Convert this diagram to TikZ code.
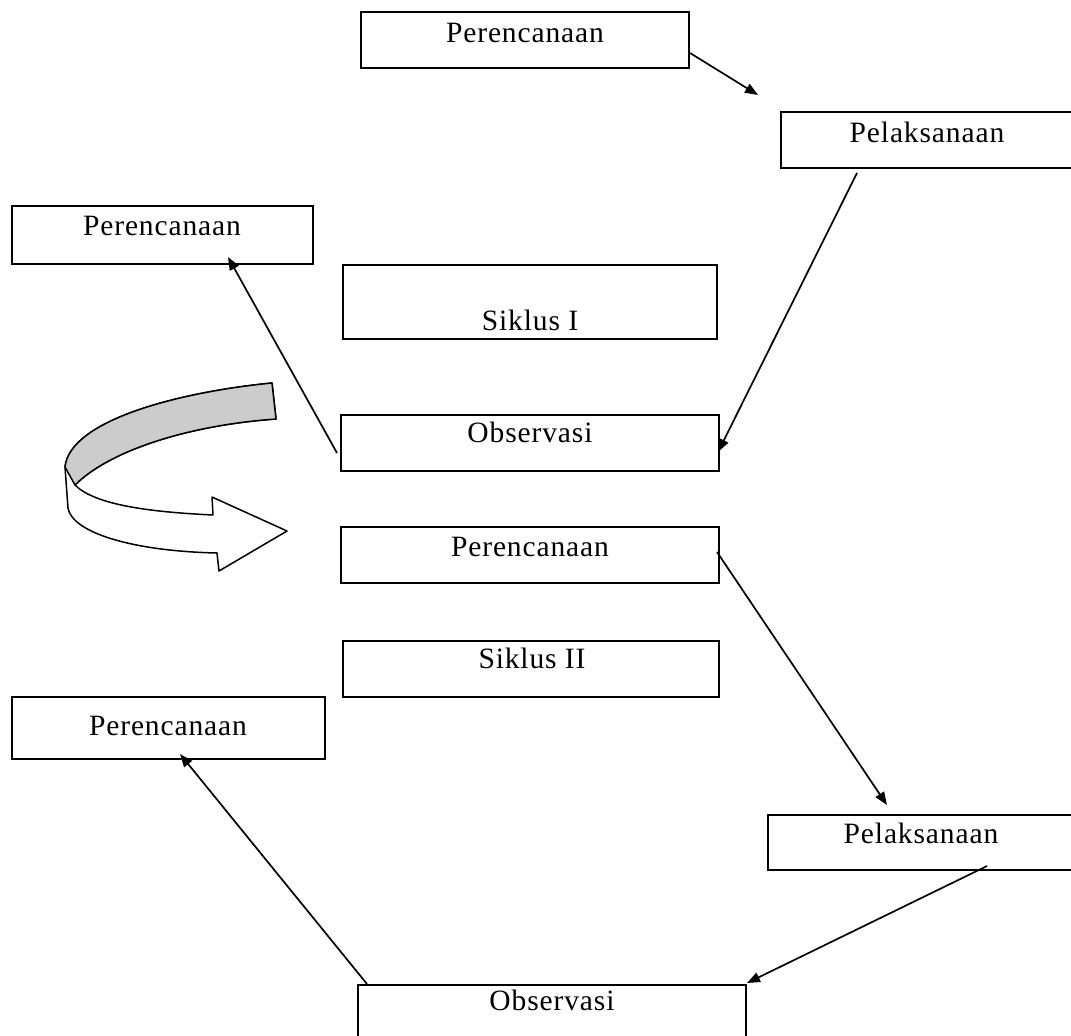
\documentclass[tikz,border=0pt]{standalone}
\usepackage{fontspec}
\setmainfont{Liberation Serif}[LetterSpace=3]
\usetikzlibrary{arrows.meta}
\begin{document}
\begin{tikzpicture}[x=1pt,y=-1pt,
  box/.style={draw, line width=2.2pt, rectangle, inner sep=0pt},
  lbl/.style={anchor=base, inner sep=0pt, font=\fontsize{29.5}{33}\selectfont},
  conn/.style={line width=1.7pt, -{Triangle[length=13pt,width=10pt]}},
  ribbon/.style={line width=1.5pt, line join=round}]
\useasboundingbox (0,0) rectangle (1071,1036);
\clip (0,0) rectangle (1071,1036);
\fill[white] (0,0) rectangle (1071,1036);

% boxes
\node[box, minimum width=328pt, minimum height=56pt] (p1) at (525,40) {};
\node[box, minimum width=292pt, minimum height=56pt] (l1) at (927,140) {};
\node[box, minimum width=301pt, minimum height=58pt] (p2) at (162.5,235) {};
\node[box, minimum width=374pt, minimum height=74pt] (s1) at (530,302) {};
\node[box, minimum width=378pt, minimum height=56pt] (o1) at (530,443) {};
\node[box, minimum width=378pt, minimum height=56pt] (p3) at (530,555) {};
\node[box, minimum width=376pt, minimum height=56pt] (s2) at (531,669) {};
\node[box, minimum width=313pt, minimum height=62pt] (p4) at (168.5,728) {};
\node[box, minimum width=306pt, minimum height=55pt] (l2) at (921,842.5) {};
\node[box, minimum width=388pt, minimum height=60pt] (o2) at (552,1015) {};

% labels
\node[lbl] (tp1) at (525,42) {Perencanaan};
\node[lbl] (tl1) at (927,142) {Pelaksanaan};
\node[lbl] (tp2) at (162,235) {Perencanaan};
\node[lbl] (ts1) at (530,330) {Siklus I};
\node[lbl] (to1) at (530,442) {Observasi};
\node[lbl] (tp3) at (530,556) {Perencanaan};
\node[lbl] (ts2) at (532,668) {Siklus II};
\node[lbl] (tp4) at (168,735) {Perencanaan};
\node[lbl] (tl2) at (921,843) {Pelaksanaan};
\node[lbl] (to2) at (552,1010) {Observasi};

% connector end points
\coordinate (a1) at (690,53);  \coordinate (a2) at (758,95);
\coordinate (b1) at (857,173); \coordinate (b2) at (718,452);
\coordinate (c1) at (337,453); \coordinate (c2) at (228,257);
\coordinate (d1) at (717,552); \coordinate (d2) at (887,805);
\coordinate (e1) at (987,866); \coordinate (e2) at (747,983);
\coordinate (f1) at (367,984); \coordinate (f2) at (180,754);

\draw[conn] (a1) -- (a2);
\draw[conn] (b1) -- (b2);
\draw[conn] (c1) -- (c2);
\draw[conn] (d1) -- (d2);
\draw[conn] (e1) -- (e2);
\draw[conn] (f1) -- (f2);

% curved ribbon arrow
\coordinate (rA) at (272,383);
\coordinate (rB) at (276,419);
\coordinate (rC) at (65,467);
\coordinate (rD) at (75,485);
\coordinate (rE) at (68,508);
\coordinate (rF) at (217,553);
\coordinate (rG) at (219,571);
\coordinate (rT) at (287,531);
\coordinate (rH) at (212,497);
\coordinate (rI) at (213,515);
\draw[ribbon, fill=white] (rA) .. controls (180,392) and (70,420) .. (rC)
  -- (rE) .. controls (72,532) and (130,551) .. (rF)
  -- (rG) -- (rT) -- (rH) -- (rI)
  .. controls (150,512) and (95,505) .. (rD)
  .. controls (110,450) and (190,425) .. (rB) -- cycle;
\draw[ribbon, fill=black!20] (rA) .. controls (180,392) and (70,420) .. (rC)
  -- (rD) .. controls (110,450) and (190,425) .. (rB) -- cycle;
\end{tikzpicture}
\end{document}
